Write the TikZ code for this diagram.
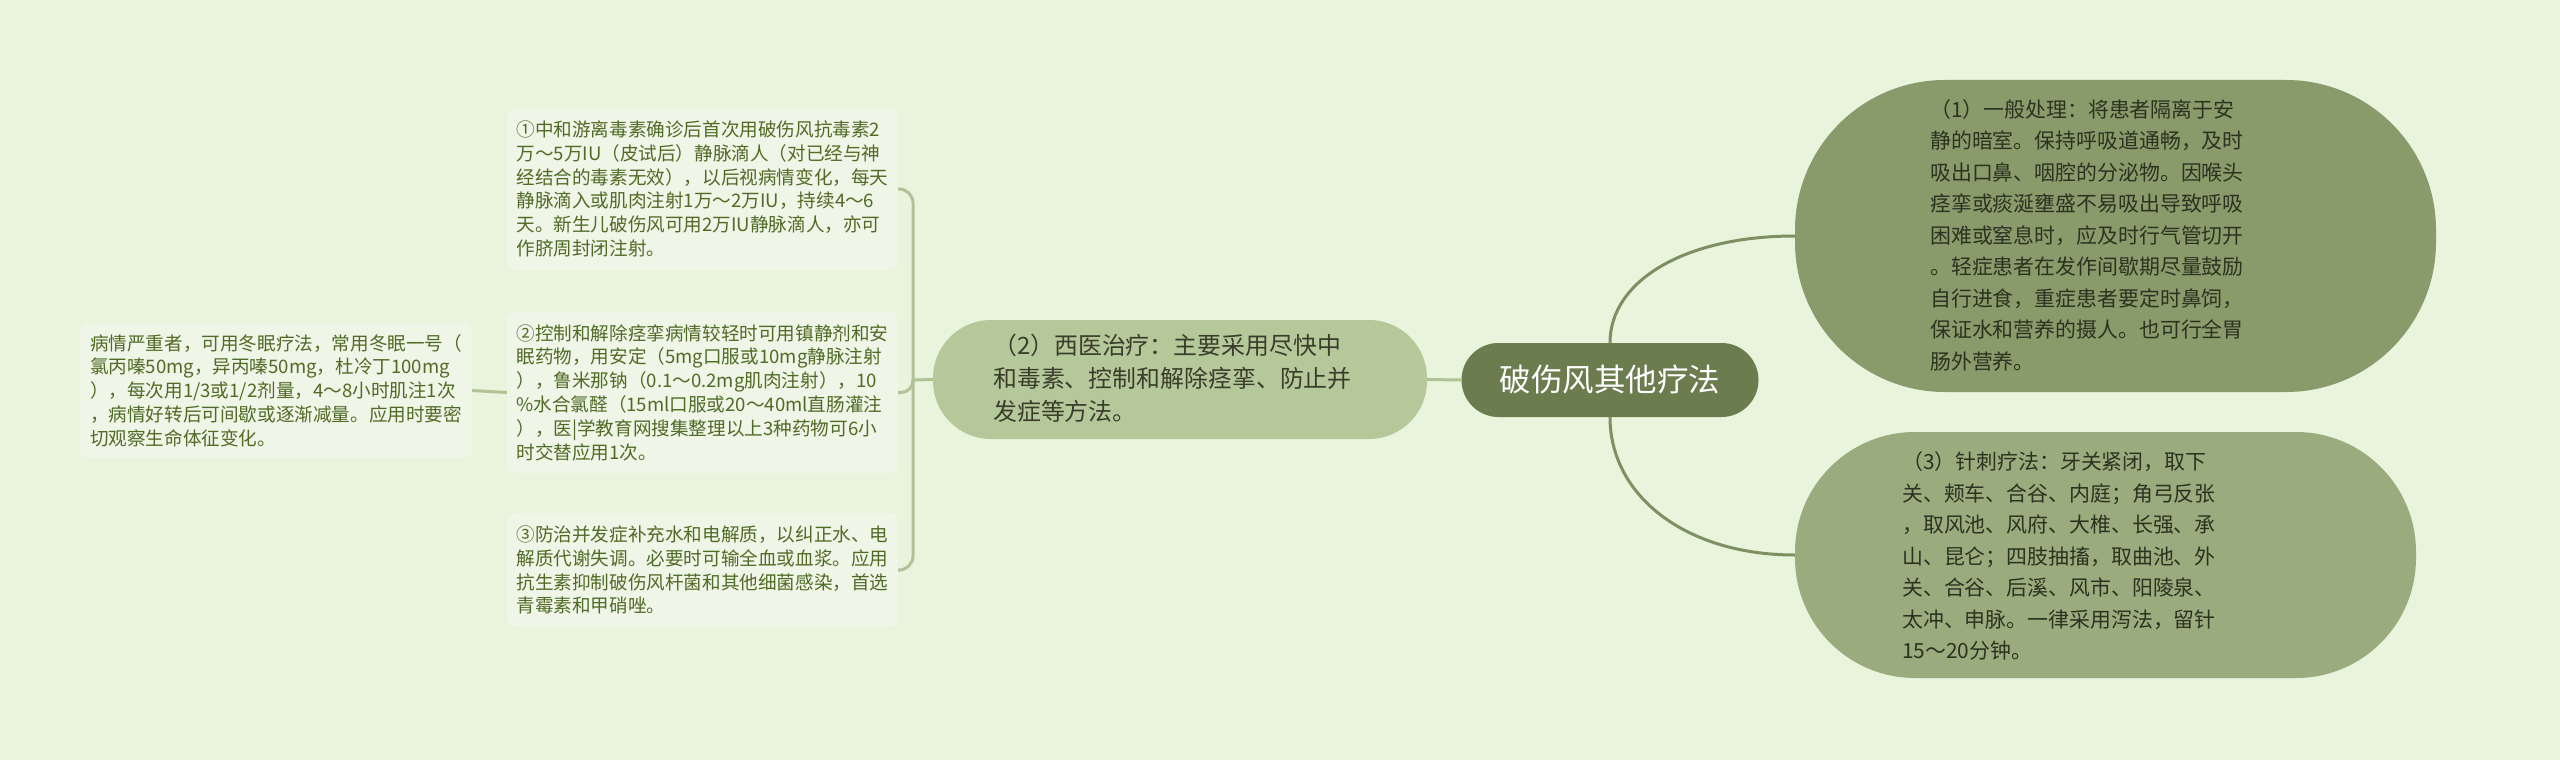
\documentclass[tikz,border=0pt]{standalone}
\usepackage{fontspec}
\setmainfont{Noto Sans CJK SC}
\definecolor{bg}{HTML}{E8F4DC}
\definecolor{cfill}{HTML}{6B7C4E}
\definecolor{onefill}{HTML}{899A6B}
\definecolor{threefill}{HTML}{9AAB7D}
\definecolor{twofill}{HTML}{B5C89A}
\definecolor{leaffill}{HTML}{EFF5E7}
\definecolor{leaftext}{HTML}{4F6B25}
\definecolor{darktext}{HTML}{2B3320}
\definecolor{twotext}{HTML}{3A3D2C}
\definecolor{connd}{HTML}{7E9062}
\definecolor{connl}{HTML}{B0C296}
\begin{document}
\begin{tikzpicture}[x=1pt,y=-1pt,
  leafbox/.style={fill=leaffill, rounded corners=8pt, text=leaftext, align=left, inner sep=0pt,
    font=\fontsize{18.6pt}{23.8pt}\selectfont},
  bigtext/.style={align=left, inner sep=0pt, text=darktext, font=\fontsize{20.9pt}{31.5pt}\selectfont},
  dconn/.style={draw=connd, line width=3pt},
  lconn/.style={draw=connl, line width=3pt}]
\fill[bg] (0,0) rectangle (2560,760);
\useasboundingbox (0,0) rectangle (2560,760);

% central
\node[fill=cfill, rounded corners=37pt, minimum width=297pt, minimum height=74pt, inner sep=0pt,
  text=white, font=\fontsize{31.5pt}{36pt}\selectfont] (c) at (1610,380) {破伤风其他疗法};

% (1)
\node[fill=onefill, rounded corners=150pt, minimum width=641pt, minimum height=312pt, inner sep=0pt] (n1) at (2115.5,236) {};
\node[bigtext, anchor=west] (n1t) at (1930,235) {（1）一般处理：将患者隔离于安\\静的暗室。保持呼吸道通畅，及时\\吸出口鼻、咽腔的分泌物。因喉头\\痉挛或痰涎壅盛不易吸出导致呼吸\\困难或窒息时，应及时行气管切开\\。轻症患者在发作间歇期尽量鼓励\\自行进食，重症患者要定时鼻饲，\\保证水和营养的摄人。也可行全胃\\肠外营养。};

% (3)
\node[fill=threefill, rounded corners=120pt, minimum width=621pt, minimum height=246pt, inner sep=0pt] (n3) at (2105.5,555) {};
\node[bigtext, anchor=west] (n3t) at (1902,556) {（3）针刺疗法：牙关紧闭，取下\\关、颊车、合谷、内庭；角弓反张\\，取风池、风府、大椎、长强、承\\山、昆仑；四肢抽搐，取曲池、外\\关、合谷、后溪、风市、阳陵泉、\\太冲、申脉。一律采用泻法，留针\\15～20分钟。};

% (2)
\node[fill=twofill, rounded corners=58pt, minimum width=494pt, minimum height=119pt, inner sep=0pt] (n2) at (1180,379.5) {};
\node[align=left, inner sep=0pt, text=twotext, anchor=west, font=\fontsize{23.9pt}{33pt}\selectfont] (n2t) at (993,378) {（2）西医治疗：主要采用尽快中\\和毒素、控制和解除痉挛、防止并\\发症等方法。};

% leaves
\node[leafbox, minimum width=391pt, minimum height=162pt] (b1) at (702.5,189) {①中和游离毒素确诊后首次用破伤风抗毒素2\\万～5万IU（皮试后）静脉滴人（对已经与神\\经结合的毒素无效），以后视病情变化，每天\\静脉滴入或肌肉注射1万～2万IU，持续4～6\\天。新生儿破伤风可用2万IU静脉滴人，亦可\\作脐周封闭注射。};
\node[leafbox, minimum width=391pt, minimum height=161pt] (b2) at (702.5,392.5) {②控制和解除痉挛病情较轻时可用镇静剂和安\\眠药物，用安定（5mg口服或10mg静脉注射\\），鲁米那钠（0.1～0.2mg肌肉注射），10\\\%水合氯醛（15ml口服或20～40ml直肠灌注\\），医|学教育网搜集整理以上3种药物可6小\\时交替应用1次。};
\node[leafbox, minimum width=391pt, minimum height=114pt] (b3) at (702.5,570) {③防治并发症补充水和电解质，以纠正水、电\\解质代谢失调。必要时可输全血或血浆。应用\\抗生素抑制破伤风杆菌和其他细菌感染，首选\\青霉素和甲硝唑。};
\node[leafbox, minimum width=392pt, minimum height=135pt] (L) at (276,390.5) {病情严重者，可用冬眠疗法，常用冬眠一号（\\氯丙嗪50mg，异丙嗪50mg，杜冷丁100mg\\），每次用1/3或1/2剂量，4～8小时肌注1次\\，病情好转后可间歇或逐渐减量。应用时要密\\切观察生命体征变化。};

% connectors
\begin{scope}[on background layer/.style={}]
\end{scope}
\draw[dconn] (c.north) .. controls +(0,-62) and +(-110,0) .. (n1.west);
\draw[dconn] (c.south) .. controls +(0,78) and +(-110,0) .. (n3.west);
\draw[lconn] (c.west) -- (n2.east);
\coordinate (j) at (913,380);
\draw[lconn] (n2.west) -- (j);
\draw[lconn, rounded corners=14pt] (j) |- (b1.east);
\draw[lconn, rounded corners=12pt] (j) |- (b2.east);
\draw[lconn, rounded corners=14pt] (j) |- (b3.east);
\draw[lconn] (L.east) -- (b2.west);
\end{tikzpicture}
\end{document}
